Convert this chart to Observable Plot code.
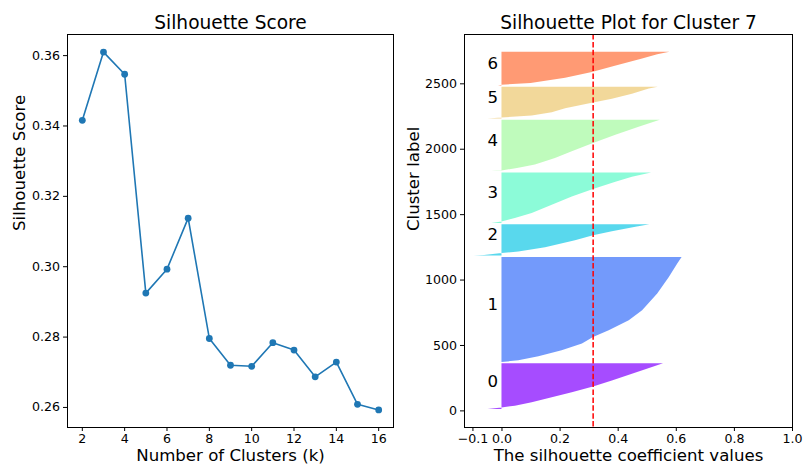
<!DOCTYPE html>
<html><head><meta charset="utf-8">
<script src="https://cdn.jsdelivr.net/npm/d3@7"></script>
<script src="https://cdn.jsdelivr.net/npm/@observablehq/plot@0.6"></script>
<style>
html,body{margin:0;padding:0;background:#fff;}
#wrap{display:flex;width:803px;height:466px;overflow:hidden;}
#wrap svg{display:block;flex:none;}
</style></head><body><div id="wrap"></div>
<script>
// ---- Left panel data ----
const kValues = [2, 3, 4, 5, 6, 7, 8, 9, 10, 11, 12, 13, 14, 15, 16];
const scores = [0.3416, 0.3610, 0.3547, 0.2925, 0.2993, 0.3138, 0.2796, 0.2720, 0.2717, 0.2784, 0.2763, 0.2687, 0.2729, 0.2609, 0.2593];
const kTicks = [2, 4, 6, 8, 10, 12, 14, 16];
const scoreTicks = [0.26, 0.28, 0.30, 0.32, 0.34, 0.36];

// ---- Right panel data ----
const clusterLabels = ["0", "1", "2", "3", "4", "5", "6"];
const clusterSizes = [350, 803, 240, 386, 393, 242, 258];
const clusterColors = ["#8000ff", "#376ff9", "#12c7e6", "#5bf9c7", "#a4f99f", "#edc76f", "#ff6f39"];
// rank fraction within cluster (sorted ascending) and silhouette value
const rankFractions = [
  [0, 0.037, 0.074, 0.147, 0.257, 0.368, 0.493, 0.625, 0.772, 0.919, 1.0],
  [0, 0.016, 0.054, 0.111, 0.175, 0.238, 0.302, 0.397, 0.492, 0.651, 0.81, 0.937, 1.0],
  [0, 0.02, 0.08, 0.13, 0.27, 0.49, 0.65, 0.78, 0.92, 1.0],
  [0, 0.03, 0.098, 0.196, 0.36, 0.523, 0.673, 0.817, 0.915, 1.0],
  [0, 0.013, 0.064, 0.128, 0.256, 0.385, 0.545, 0.705, 0.865, 1.0],
  [0, 0.03, 0.09, 0.19, 0.32, 0.49, 0.62, 0.78, 0.94, 1.0],
  [0, 0.02, 0.07, 0.23, 0.40, 0.58, 0.80, 0.92, 1.0]
];
const silhouetteValues = [
  [-0.048, 0.0, 0.046, 0.104, 0.173, 0.242, 0.315, 0.38, 0.449, 0.518, 0.556],
  [0.0, 0.058, 0.127, 0.207, 0.277, 0.315, 0.369, 0.438, 0.484, 0.536, 0.576, 0.605, 0.62],
  [-0.095, -0.06, 0.0, 0.058, 0.15, 0.253, 0.315, 0.38, 0.461, 0.509],
  [-0.035, 0.0, 0.046, 0.104, 0.173, 0.242, 0.315, 0.392, 0.449, 0.515],
  [-0.035, 0.0, 0.058, 0.115, 0.184, 0.242, 0.315, 0.392, 0.472, 0.545],
  [-0.048, 0.0, 0.104, 0.173, 0.219, 0.311, 0.38, 0.449, 0.507, 0.538],
  [-0.012, 0.0, 0.10, 0.219, 0.311, 0.39, 0.484, 0.536, 0.578]
];
const meanSilhouette = 0.3138;
const coefTicks = [-0.1, 0.0, 0.2, 0.4, 0.6, 0.8, 1.0];
const labelTicks = [0, 500, 1000, 1500, 2000, 2500];

const FONT = "DejaVu Sans";
const baseStyle = {background: "white", fontFamily: FONT, fontSize: "12.6px", color: "black", overflow: "visible"};

// ---- Left chart ----
const scoreRows = kValues.map((k, i) => ({k, score: scores[i]}));
const left = Plot.plot({
  width: 400, height: 466,
  marginLeft: 67, marginRight: 7, marginTop: 34, marginBottom: 39,
  style: baseStyle,
  x: {domain: [1.3, 16.7]},
  y: {domain: [0.2543, 0.366]},
  marks: [
    Plot.axisX({ticks: kTicks, tickSize: 4, tickPadding: 3, fontSize: 12.6, label: null}),
    Plot.axisY({ticks: scoreTicks, tickSize: 4, tickPadding: 3.5, fontSize: 12.6, tickFormat: d3.format(".2f"), label: null}),
    Plot.line(scoreRows, {x: "k", y: "score", stroke: "#1f77b4", strokeWidth: 1.6}),
    Plot.dot(scoreRows, {x: "k", y: "score", r: 3.4, fill: "#1f77b4", stroke: "none"}),
    Plot.frame({stroke: "#000", strokeWidth: 1}),
    Plot.text(["Silhouette Score"], {text: d => d, frameAnchor: "top", dy: -5.7, lineAnchor: "bottom", fontSize: 18.6}),
    Plot.text(["Number of Clusters (k)"], {text: d => d, frameAnchor: "bottom", dy: 33, lineAnchor: "bottom", fontSize: 16.6}),
    Plot.text(["Silhouette Score"], {text: d => d, frameAnchor: "left", dx: -48, rotate: -90, fontSize: 16.6})
  ]
});

// ---- Right chart ----
const silRows = [];
const labelRows = [];
let yLower = 10;
clusterLabels.forEach((lab, i) => {
  const size = clusterSizes[i];
  rankFractions[i].forEach((f, j) => {
    silRows.push({cluster: lab, y: yLower + f * size, v: silhouetteValues[i][j], color: clusterColors[i]});
  });
  labelRows.push({label: lab, y: yLower + 0.5 * size});
  yLower = yLower + size + 10;
});

const right = Plot.plot({
  width: 403, height: 466,
  marginLeft: 64, marginRight: 11, marginTop: 34, marginBottom: 39,
  style: baseStyle,
  x: {domain: [-0.129, 1.0]},
  y: {domain: [-127, 2877]},
  color: {type: "identity"},
  marks: [
    Plot.areaX(silRows, {y: "y", x: "v", z: "cluster", fill: "color", fillOpacity: 0.7}),
    Plot.axisX({ticks: coefTicks, tickSize: 4, tickPadding: 3, fontSize: 12.6, tickFormat: d3.format(".1f"), label: null}),
    Plot.axisY({ticks: labelTicks, tickSize: 4, tickPadding: 3.5, fontSize: 12.6, tickFormat: d => String(d), label: null}),
    Plot.text(labelRows, {x: () => -0.05, y: "y", text: "label", textAnchor: "start", lineAnchor: "bottom", fontSize: 16.6}),
    Plot.ruleX([meanSilhouette], {stroke: "red", strokeDasharray: "5.5,2.4", strokeWidth: 1.5}),
    Plot.frame({stroke: "#000", strokeWidth: 1}),
    Plot.text(["Silhouette Plot for Cluster 7"], {text: d => d, frameAnchor: "top", dy: -5.7, lineAnchor: "bottom", fontSize: 18.6}),
    Plot.text(["The silhouette coefficient values"], {text: d => d, frameAnchor: "bottom", dy: 33, lineAnchor: "bottom", fontSize: 16.6}),
    Plot.text(["Cluster label"], {text: d => d, frameAnchor: "left", dx: -51, rotate: -90, fontSize: 16.6})
  ]
});

const wrap = document.getElementById("wrap");
wrap.appendChild(left);
wrap.appendChild(right);
</script>
</body></html>
